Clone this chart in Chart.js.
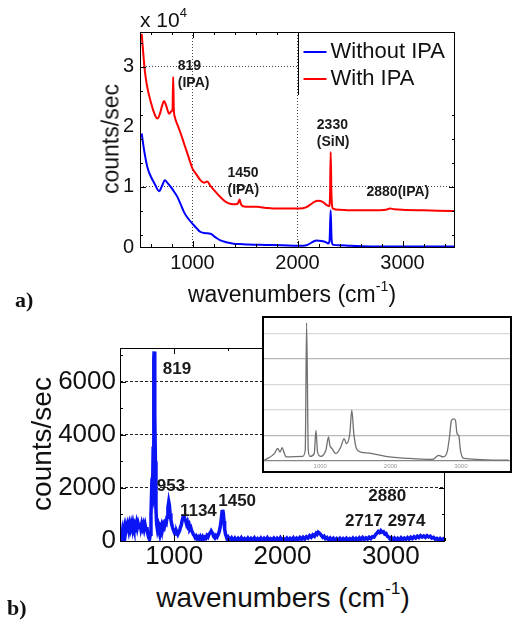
<!DOCTYPE html>
<html lang="en">
<head>
<meta charset="UTF-8">
<title>IPA spectra</title>
<style>
    body {
        margin: 0;
        width: 519px;
        height: 621px;
        position: relative;
        overflow: hidden;
        background: #fff;
        color: #111;
        font-family: 'Liberation Sans', Arial, sans-serif;
    }
    canvas { position: absolute; }
    #chartA { left: 0; top: 0; }
    #chartB { left: 0; top: 310px; }
    #inset {
        position: absolute;
        left: 262px; top: 316px;
        width: 250px; height: 157px;
        border: 2px solid #000;
        box-sizing: border-box;
        background: #fff;
    }
    #inset canvas { left: 0; top: 0; }
    .txt { position: absolute; white-space: nowrap; line-height: 1; }
    .center { transform: translate(-50%, -50%); }
    .rot { transform: translate(-50%, -50%) rotate(-90deg); }
    .panel { font-family: 'Liberation Serif', serif; font-weight: bold; font-size: 22px; }
    sup { font-size: 62%; vertical-align: 0.75em; line-height: 0; }
</style>
</head>
<body>
    <canvas id="chartA" width="519" height="280"></canvas>
    <canvas id="chartB" width="519" height="260"></canvas>
    <div id="inset"><canvas id="chartInset" width="246" height="153"></canvas></div>

    <div class="txt" style="left:140px; top:9px; font-size:21px;">x 10<sup>4</sup></div>
    <div class="txt rot" style="left:111px; top:139px; font-size:23px;">counts/sec</div>
    <div class="txt center" style="left:292px; top:294px; font-size:23px;">wavenumbers (cm<sup>-1</sup>)</div>
    <div class="txt panel" style="left:15px; top:289px;">a)</div>

    <div class="txt rot" style="left:42px; top:444px; font-size:28px;">counts/sec</div>
    <div class="txt center" style="left:283px; top:598px; font-size:28px;">wavenumbers (cm<sup>-1</sup>)</div>
    <div class="txt panel" style="left:7px; top:597px;">b)</div>

    <script src="https://cdn.jsdelivr.net/npm/chart.js"></script>
    <script>
        // ---- panel a) : counts/sec in units of 10^4, [wavenumber, value]
        const withoutIPA = [
            [516, 1.89], [540, 1.6], [573, 1.31], [604, 1.17], [640, 1.05], [683, 0.93],
            [710, 1.02], [737, 1.11], [765, 1.06], [793, 1.0], [825, 0.92], [857, 0.83],
            [890, 0.7], [919, 0.58], [960, 0.47], [999, 0.39], [1040, 0.31], [1077, 0.25],
            [1120, 0.23], [1172, 0.22], [1220, 0.16], [1266, 0.11], [1320, 0.08], [1392, 0.056],
            [1450, 0.05], [1534, 0.04], [1700, 0.035], [1850, 0.03], [2000, 0.02], [2054, 0.02],
            [2100, 0.04], [2150, 0.09], [2181, 0.11], [2230, 0.1], [2270, 0.08], [2291, 0.06],
            [2305, 0.1], [2316, 0.61], [2324, 0.15], [2335, 0.04], [2400, 0.03], [2500, 0.02],
            [2700, 0.01], [3000, 0.01], [3500, 0.01]
        ];
        const withIPA = [
            [516, 3.55], [530, 3.25], [545, 2.95], [565, 2.7], [590, 2.5], [605, 2.4],
            [625, 2.28], [650, 2.17], [667, 2.14], [690, 2.22], [710, 2.35], [730, 2.43],
            [750, 2.35], [777, 2.22], [800, 2.26], [810, 2.3], [816, 2.83], [822, 2.3],
            [831, 2.17], [860, 2.02], [888, 1.89], [920, 1.72], [951, 1.56], [975, 1.43],
            [999, 1.31], [1040, 1.2], [1077, 1.11], [1110, 1.07], [1140, 1.09], [1170, 1.02],
            [1203, 0.95], [1250, 0.86], [1297, 0.78], [1340, 0.73], [1392, 0.71], [1430, 0.72],
            [1449, 0.79], [1460, 0.72], [1480, 0.68], [1550, 0.67], [1613, 0.67], [1700, 0.65],
            [1770, 0.64], [1900, 0.64], [2023, 0.64], [2080, 0.66], [2118, 0.7], [2160, 0.75],
            [2196, 0.77], [2240, 0.75], [2276, 0.7], [2300, 0.68], [2309, 0.8], [2316, 1.58],
            [2323, 0.9], [2338, 0.64], [2400, 0.62], [2496, 0.61], [2700, 0.61], [2843, 0.62],
            [2880, 0.64], [2920, 0.63], [3000, 0.62], [3200, 0.61], [3470, 0.6], [3500, 0.6]
        ];
        const peaksA = [
            { x: 860, y: 3.01, text: '819\n(IPA)' },
            { x: 1333, y: 1.23, text: '1450\n(IPA)' },
            { x: 2184, y: 2.03, text: '2330\n(SiN)' },
            { x: 2657, y: 0.91, text: '2880(IPA)' }
        ];
        const xTicksA = [1000, 2000, 3000];
        const yTicksA = [0, 1, 2, 3];

        // ---- panel b) : IPA difference spectrum, counts/sec
        const ipaSpectrum = [
            [500, 250], [508, 400], [516, 180], [524, 420], [532, 260], [540, 470], [548, 240],
            [556, 500], [564, 330], [572, 560], [580, 400], [588, 620], [596, 470], [604, 650],
            [612, 500], [620, 680], [628, 520], [636, 640], [644, 540], [652, 690], [660, 500],
            [668, 650], [676, 520], [684, 680], [692, 480], [700, 640], [708, 500], [716, 620],
            [724, 450], [732, 600], [740, 420], [748, 520], [756, 280], [764, 140], [772, 60],
            [780, 250], [786, 1000], [792, 1900], [800, 1750], [806, 3500], [812, 6900],
            [815, 7150], [819, 6200], [823, 4700], [827, 3000], [832, 1200], [838, 650],
            [846, 420], [854, 560], [862, 380], [870, 520], [878, 420], [886, 580], [894, 460],
            [902, 620], [910, 540], [918, 700], [926, 660], [934, 900], [942, 1250], [950, 1480],
            [956, 1350], [962, 1050], [970, 800], [978, 620], [986, 500], [994, 400], [1002, 320],
            [1010, 380], [1018, 260], [1026, 330], [1034, 250], [1042, 320], [1050, 380],
            [1058, 520], [1066, 600], [1074, 780], [1082, 900], [1090, 1000], [1098, 820],
            [1106, 760], [1114, 640], [1122, 720], [1130, 560], [1138, 620], [1146, 450],
            [1154, 500], [1162, 380], [1170, 320], [1178, 240], [1186, 200], [1194, 130],
            [1202, 180], [1212, 90], [1222, 150], [1232, 80], [1242, 170], [1252, 90], [1262, 160],
            [1272, 70], [1282, 140], [1292, 100], [1302, 200], [1312, 150], [1322, 260],
            [1332, 300], [1342, 380], [1350, 320], [1358, 260], [1366, 160], [1376, 120],
            [1386, 200], [1396, 150], [1406, 240], [1416, 350], [1426, 550], [1434, 800],
            [1442, 1100], [1448, 1180], [1454, 1050], [1460, 750], [1466, 450], [1474, 250],
            [1482, 160], [1490, 60], [1500, 140], [1515, 40], [1530, 120], [1545, 30], [1560, 110],
            [1575, 20], [1590, 100], [1605, 30], [1620, 120], [1635, 20], [1650, 90], [1665, 30],
            [1680, 110], [1695, 20], [1710, 100], [1725, 40], [1740, 120], [1755, 20], [1770, 90],
            [1785, 30], [1800, 110], [1815, 20], [1830, 100], [1845, 30], [1860, 120], [1875, 20],
            [1890, 90], [1905, 40], [1920, 110], [1935, 20], [1950, 100], [1965, 30], [1980, 120],
            [1995, 20], [2010, 90], [2025, 40], [2040, 110], [2055, 30], [2070, 100], [2085, 40],
            [2100, 120], [2115, 30], [2130, 110], [2145, 50], [2160, 130], [2175, 60], [2190, 140],
            [2205, 70], [2220, 160], [2235, 110], [2250, 200], [2265, 140], [2280, 230],
            [2295, 180], [2310, 290], [2320, 250], [2330, 330], [2340, 300], [2350, 260],
            [2360, 200], [2372, 140], [2384, 180], [2396, 90], [2410, 130], [2425, 40], [2440, 110],
            [2455, 30], [2470, 100], [2485, 20], [2500, 90], [2515, 30], [2530, 100], [2545, 20],
            [2560, 90], [2575, 30], [2590, 100], [2605, 20], [2620, 90], [2635, 40], [2650, 110],
            [2665, 30], [2680, 100], [2695, 40], [2710, 120], [2725, 50], [2740, 130], [2755, 60],
            [2770, 120], [2785, 70], [2800, 140], [2815, 90], [2830, 160], [2845, 150], [2860, 240],
            [2872, 300], [2884, 360], [2896, 320], [2908, 390], [2920, 330], [2932, 350],
            [2944, 260], [2956, 280], [2968, 180], [2980, 150], [2992, 80], [3004, 130], [3019, 40],
            [3034, 110], [3049, 30], [3064, 100], [3079, 40], [3094, 120], [3109, 50], [3124, 110],
            [3139, 60], [3154, 130], [3169, 70], [3184, 140], [3199, 90], [3214, 160], [3229, 110],
            [3244, 180], [3259, 130], [3274, 200], [3289, 150], [3304, 190], [3319, 140],
            [3334, 200], [3349, 150], [3364, 180], [3379, 110], [3394, 140], [3409, 70], [3424, 100],
            [3439, 30], [3454, 90], [3469, 20], [3484, 80], [3500, 30]
        ];
        const peaksB = [
            { x: 895, y: 6473, text: '819' },
            { x: 839, y: 2062, text: '953' },
            { x: 1053, y: 1120, text: '1134' },
            { x: 1407, y: 1497, text: '1450' },
            { x: 2792, y: 1693, text: '2880' },
            { x: 2578, y: 743, text: '2717 2974' }
        ];
        const xTicksB = [1000, 2000, 3000];
        const yTicksB = [0, 2000, 4000, 6000];

        // ---- inset : reference spectrum (arbitrary units)
        const referenceSpectrum = [
            [206, 0.03], [348, 0.29], [395, 0.49], [429, 0.35], [457, 0.52], [490, 0.29],
            [514, 0.16], [749, 0.18], [787, 0.42], [806, 5.41], [830, 0.42], [854, 0.18],
            [915, 0.29], [939, 1.2], [962, 0.35], [1009, 0.18], [1080, 0.42], [1118, 0.94],
            [1137, 0.61], [1166, 0.49], [1222, 0.29], [1293, 0.55], [1340, 0.88], [1373, 0.68],
            [1421, 1.07], [1449, 1.99], [1478, 1.07], [1515, 0.49], [1577, 0.35], [1695, 0.31],
            [1932, 0.18], [2262, 0.1], [2593, 0.06], [2687, 0.22], [2744, 0.16], [2805, 0.35],
            [2839, 0.94], [2867, 1.59], [2900, 1.65], [2924, 1.59], [2947, 1.07], [2971, 1.0],
            [2995, 0.42], [3042, 0.1], [3680, 0.03]
        ];
        const xTicksInset = [1000, 2000, 3000];
        const yTicksInset = [0, 1, 2, 3, 4, 5];

        const toPoints = arr => arr.map(p => ({ x: p[0], y: p[1] }));
        const asTicks = arr => arr.map(v => ({ value: v }));
        const FONT = "'Liberation Sans', Arial, sans-serif";

        // box with inward tick marks, MATLAB style
        const frameTicks = {
            id: 'frameTicks',
            afterDatasetsDraw(chart, args, o) {
                const { ctx, chartArea: a, scales: { x, y } } = chart;
                ctx.save();
                ctx.strokeStyle = '#000';
                ctx.lineWidth = 1;
                ctx.beginPath();
                for (let v = o.xStart; v <= x.max; v += o.xStep) {
                    const px = Math.round(x.getPixelForValue(v)) + 0.5;
                    const len = v % o.xMajor === 0 ? 6 : 3;
                    ctx.moveTo(px, a.bottom); ctx.lineTo(px, a.bottom - len);
                    ctx.moveTo(px, a.top); ctx.lineTo(px, a.top + len);
                }
                for (let v = o.yStart; v <= y.max; v += o.yStep) {
                    const py = Math.round(y.getPixelForValue(v)) + 0.5;
                    const len = Math.abs(v / o.yMajor - Math.round(v / o.yMajor)) < 1e-6 ? 6 : 3;
                    ctx.moveTo(a.left, py); ctx.lineTo(a.left + len, py);
                    ctx.moveTo(a.right, py); ctx.lineTo(a.right - len, py);
                }
                ctx.stroke();
                ctx.strokeRect(Math.round(a.left) + 0.5, Math.round(a.top) + 0.5,
                    Math.round(a.width) - 1, Math.round(a.height));
                ctx.restore();
            }
        };

        const peakLabels = {
            id: 'peakLabels',
            afterDatasetsDraw(chart, args, o) {
                const { ctx, scales: { x, y } } = chart;
                ctx.save();
                ctx.fillStyle = '#1a1a1a';
                ctx.font = 'bold ' + o.size + 'px ' + FONT;
                ctx.textAlign = 'left';
                ctx.textBaseline = 'middle';
                o.items.forEach(it => {
                    const px = x.getPixelForValue(it.x);
                    const py = y.getPixelForValue(it.y);
                    it.text.split('\n').forEach((line, i) => ctx.fillText(line, px, py + i * o.gap));
                });
                ctx.restore();
            }
        };

        // legend box in the upper right of panel a)
        const boxLegend = {
            id: 'boxLegend',
            afterDraw(chart, args, o) {
                const { ctx, chartArea: a, scales: { x } } = chart;
                const left = Math.round(x.getPixelForValue(o.fromX)) + 0.5;
                ctx.save();
                ctx.fillStyle = '#fff';
                ctx.fillRect(left, a.top + 1, a.right - left - 1, o.height);
                ctx.strokeStyle = '#000';
                ctx.lineWidth = 1;
                ctx.beginPath();
                ctx.moveTo(left, a.top); ctx.lineTo(left, a.top + o.height);
                ctx.stroke();
                ctx.font = o.size + 'px ' + FONT;
                ctx.textBaseline = 'middle';
                chart.data.datasets.forEach((ds, i) => {
                    const yy = a.top + 20 + i * 27;
                    ctx.strokeStyle = ds.borderColor;
                    ctx.lineWidth = 2;
                    ctx.beginPath();
                    ctx.moveTo(left + 5, yy); ctx.lineTo(left + 28, yy);
                    ctx.stroke();
                    ctx.fillStyle = '#111';
                    ctx.fillText(ds.label, left + 32, yy);
                });
                ctx.restore();
            }
        };

        // ---------- chart a)
        new Chart(document.getElementById('chartA'), {
            type: 'line',
            data: {
                datasets: [
                    { label: 'Without IPA', data: toPoints(withoutIPA), borderColor: '#0000ff',
                      borderWidth: 2, pointRadius: 0, cubicInterpolationMode: 'monotone' },
                    { label: 'With IPA', data: toPoints(withIPA), borderColor: '#ff0000',
                      borderWidth: 2, pointRadius: 0, cubicInterpolationMode: 'monotone' }
                ]
            },
            options: {
                responsive: false,
                animation: false,
                events: [],
                layout: { padding: { top: 32, right: 64, left: 0, bottom: 0 } },
                plugins: {
                    legend: { display: false },
                    tooltip: { enabled: false },
                    peakLabels: { items: peaksA, size: 14, gap: 17 },
                    boxLegend: { fromX: 2000, height: 63, size: 22 },
                    frameTicks: { xStart: 600, xStep: 200, xMajor: 1000, yStart: 0.2, yStep: 0.4, yMajor: 1 }
                },
                scales: {
                    x: {
                        type: 'linear', min: 500, max: 3500,
                        afterFit: s => { s.height = 33; },
                        afterBuildTicks: s => { s.ticks = asTicks(xTicksA); },
                        grid: { drawTicks: false, lineWidth: 1,
                                color: c => (c.tick && (c.tick.value === 1000 || c.tick.value === 2000)) ? '#444' : 'rgba(0,0,0,0)' },
                        border: { display: false, dash: [1, 2] },
                        ticks: { padding: 4, maxRotation: 0, autoSkip: false, color: '#111',
                                 font: { family: FONT, size: 20 }, callback: v => String(v) }
                    },
                    y: {
                        min: 0, max: 3.58,
                        afterFit: s => { s.width = 140; },
                        afterBuildTicks: s => { s.ticks = asTicks(yTicksA); },
                        grid: { drawTicks: false, lineWidth: 1,
                                color: c => (c.tick && (c.tick.value === 1 || c.tick.value === 3)) ? '#444' : 'rgba(0,0,0,0)' },
                        border: { display: false, dash: [1, 2] },
                        ticks: { padding: 6, autoSkip: false, color: '#111',
                                 font: { family: FONT, size: 20 }, callback: v => String(v) }
                    }
                }
            },
            plugins: [frameTicks, peakLabels, boxLegend]
        });

        // ---------- chart b)
        new Chart(document.getElementById('chartB'), {
            type: 'line',
            data: {
                datasets: [
                    { label: 'IPA', data: toPoints(ipaSpectrum), borderColor: '#0a14f5',
                      borderWidth: 3.5, pointRadius: 0, tension: 0 }
                ]
            },
            options: {
                responsive: false,
                animation: false,
                events: [],
                layout: { padding: { top: 38, right: 74, left: 0, bottom: 0 } },
                plugins: {
                    legend: { display: false },
                    tooltip: { enabled: false },
                    peakLabels: { items: peaksB, size: 17, gap: 18 },
                    frameTicks: { xStart: 500, xStep: 500, xMajor: 1000, yStart: 0, yStep: 1000, yMajor: 2000 }
                },
                scales: {
                    x: {
                        type: 'linear', min: 500, max: 3500,
                        afterFit: s => { s.height = 29; },
                        afterBuildTicks: s => { s.ticks = asTicks(xTicksB); },
                        grid: { display: false, drawTicks: false },
                        border: { display: false },
                        ticks: { padding: 0, maxRotation: 0, autoSkip: false, color: '#111',
                                 font: { family: FONT, size: 26 }, callback: v => String(v) }
                    },
                    y: {
                        min: 0, max: 7280,
                        afterFit: s => { s.width = 120; },
                        afterBuildTicks: s => { s.ticks = asTicks(yTicksB); },
                        grid: { drawTicks: false, lineWidth: 1,
                                color: c => (c.tick && c.tick.value > 0) ? '#222' : 'rgba(0,0,0,0)' },
                        border: { display: false, dash: [3, 2] },
                        ticks: { padding: 4, autoSkip: false, color: '#111',
                                 font: { family: FONT, size: 26 }, callback: v => String(v) }
                    }
                }
            },
            plugins: [frameTicks, peakLabels]
        });

        // ---------- inset
        new Chart(document.getElementById('chartInset'), {
            type: 'line',
            data: {
                datasets: [
                    { label: 'reference', data: toPoints(referenceSpectrum), borderColor: '#707070',
                      borderWidth: 1.3, pointRadius: 0, cubicInterpolationMode: 'monotone' }
                ]
            },
            options: {
                responsive: false,
                animation: false,
                events: [],
                layout: { padding: 0 },
                plugins: { legend: { display: false }, tooltip: { enabled: false } },
                scales: {
                    x: {
                        type: 'linear', min: 200, max: 3700,
                        afterFit: s => { s.height = 10; },
                        afterBuildTicks: s => { s.ticks = asTicks(xTicksInset); },
                        grid: { display: false, drawTicks: false },
                        border: { display: false },
                        ticks: { padding: 2, maxRotation: 0, autoSkip: false, color: '#999',
                                 font: { family: FONT, size: 6 }, callback: v => String(v) }
                    },
                    y: {
                        min: 0, max: 5.6,
                        afterFit: s => { s.width = 0; },
                        afterBuildTicks: s => { s.ticks = asTicks(yTicksInset); },
                        grid: { drawTicks: false, lineWidth: 1.2,
                                color: c => (c.tick && c.tick.value === 0) ? '#888' : (c.tick && c.tick.value % 3 === 1 ? '#b8b8b8' : '#d8d8d8') },
                        border: { display: false },
                        ticks: { display: false }
                    }
                }
            }
        });
    </script>
</body>
</html>
